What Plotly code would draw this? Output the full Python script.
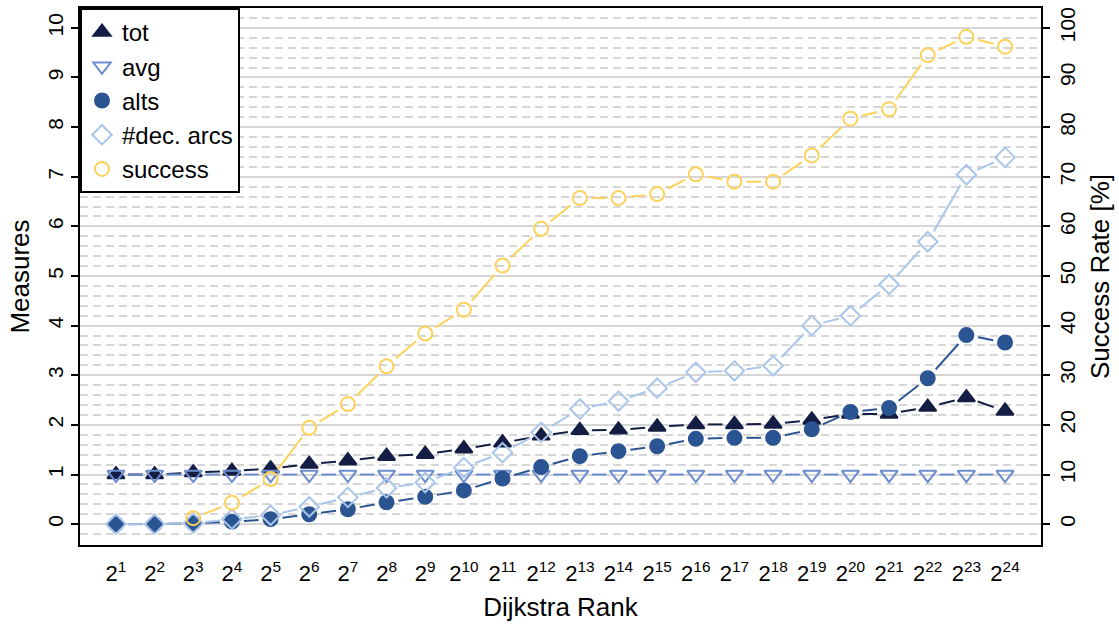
import plotly.graph_objects as go

# Dijkstra rank exponents (x positions 2^1 .. 2^24)
rank_exp = list(range(1, 25))
tick_labels = [f"2<sup>{e}</sup>" for e in rank_exp]

# Measures (left axis)
tot = [1.0, 1.0, 1.04, 1.07, 1.12, 1.21, 1.28, 1.37, 1.41, 1.52, 1.64, 1.78,
       1.89, 1.9, 1.96, 2.01, 2.01, 2.02, 2.1, 2.22, 2.22, 2.36, 2.55, 2.28]
avg = [1.0] * 24
alts = [0.0, 0.0, 0.02, 0.05, 0.1, 0.2, 0.3, 0.44, 0.55, 0.68, 0.92, 1.15,
        1.37, 1.47, 1.57, 1.72, 1.74, 1.74, 1.91, 2.26, 2.34, 2.94, 3.81, 3.66]
dec_arcs = [0.0, 0.0, 0.02, 0.1, 0.18, 0.35, 0.54, 0.73, 0.84, 1.14, 1.44, 1.85,
            2.32, 2.48, 2.74, 3.06, 3.09, 3.19, 4.0, 4.2, 4.83, 5.69, 7.04, 7.39]
# Success rate in percent (right axis)
success = [None, None, 1.2, 4.3, 9.1, 19.4, 24.2, 31.8, 38.4, 43.2, 52.1, 59.5,
           65.7, 65.7, 66.5, 70.5, 69.0, 69.0, 74.3, 81.7, 83.6, 94.5, 98.2, 96.2]

C_TOT = "#141d44"
C_AVG = "#6b8dcf"
C_ALTS = "#2b5592"
C_DEC = "#aac5ea"
C_SUC = "#fdd25a"

# figure geometry and axis ranges
W, H = 1119, 624
M_L, M_R, M_T, M_B = 80, 78, 6, 79
X_RANGE = [0.07, 24.93]
Y_RANGE = [-0.42, 10.4]
Y2_RANGE = [-4.2, 104]
PLOT_W = W - M_L - M_R
PLOT_H = H - M_T - M_B


def gapped_segments(xs, ys, y_range, gap_px=12.0):
    """Connect consecutive points with line pieces that stop short of each
    marker (like R's type="b"), returned as x/y lists split by None."""
    sx = PLOT_W / (X_RANGE[1] - X_RANGE[0])
    sy = PLOT_H / (y_range[1] - y_range[0])
    out_x, out_y = [], []
    for i in range(len(xs) - 1):
        x0, y0, x1, y1 = xs[i], ys[i], xs[i + 1], ys[i + 1]
        if y0 is None or y1 is None:
            continue
        dx, dy = (x1 - x0) * sx, (y1 - y0) * sy
        length = (dx * dx + dy * dy) ** 0.5
        if length <= 2 * gap_px:
            continue
        f = gap_px / length
        out_x += [x0 + (x1 - x0) * f, x1 - (x1 - x0) * f, None]
        out_y += [y0 + (y1 - y0) * f, y1 - (y1 - y0) * f, None]
    return out_x, out_y


series = [
    ("tot", tot, C_TOT, "triangle-up", 15, "y"),
    ("avg", avg, C_AVG, "triangle-down-open", 15, "y"),
    ("alts", alts, C_ALTS, "circle", 14, "y"),
    ("#dec. arcs", dec_arcs, C_DEC, "diamond-open", 15, "y"),
    ("success", success, C_SUC, "circle-open", 14, "y2"),
]

fig = go.Figure()

for name, vals, color, symbol, size, yax in series:
    yr = Y2_RANGE if yax == "y2" else Y_RANGE
    lx, ly = gapped_segments(rank_exp, vals, yr)
    fig.add_trace(go.Scatter(
        x=lx, y=ly, yaxis=yax, mode="lines",
        line=dict(color=color, width=2),
        showlegend=False, hoverinfo="skip",
    ))
    fig.add_trace(go.Scatter(
        x=rank_exp, y=vals, yaxis=yax, mode="markers", name=name,
        marker=dict(symbol=symbol, size=size, color=color,
                    line=dict(color=color, width=2)),
        showlegend=True,
    ))

FONT = "Liberation Sans, Arial, sans-serif"
GRID = "#d6d6d6"

fig.update_layout(
    width=W, height=H,
    margin=dict(l=M_L, r=M_R, t=M_T, b=M_B),
    paper_bgcolor="white", plot_bgcolor="white",
    font=dict(family=FONT, color="black", size=21),
    showlegend=True,
    legend=dict(
        x=0, y=1, xanchor="left", yanchor="top",
        bordercolor="black", borderwidth=2, bgcolor="white",
        font=dict(size=24, family=FONT),
        itemsizing="trace",
    ),
    xaxis=dict(
        range=X_RANGE, tickvals=rank_exp, ticktext=tick_labels,
        showgrid=False, zeroline=False, ticks="",
        showline=True, linecolor="black", linewidth=2, mirror=True,
        tickfont=dict(size=22), ticklabelstandoff=8,
        title=dict(text="Dijkstra Rank", font=dict(size=26), standoff=12),
    ),
    yaxis=dict(
        range=Y_RANGE, tickvals=list(range(0, 11)),
        tickangle=-90, ticks="outside", ticklen=7, tickwidth=1.5, tickcolor="black",
        showline=True, linecolor="black", linewidth=2, mirror=True,
        zeroline=False,
        showgrid=True, gridcolor=GRID, gridwidth=2,
        minor=dict(dtick=0.2, showgrid=True, gridcolor=GRID, gridwidth=2,
                   griddash="8px,5px", ticks=""),
        tickfont=dict(size=21),
        title=dict(text="Measures", font=dict(size=26), standoff=6),
    ),
    yaxis2=dict(
        range=Y2_RANGE, tickvals=list(range(0, 101, 10)), overlaying="y", side="right",
        tickangle=-90, ticks="outside", ticklen=7, tickwidth=1.5, tickcolor="black",
        showline=True, linecolor="black", linewidth=2,
        showgrid=False, zeroline=False,
        tickfont=dict(size=21),
        title=dict(text="Success Rate [%]", font=dict(size=26), standoff=13),
    ),
)

fig.write_html("out.html")
